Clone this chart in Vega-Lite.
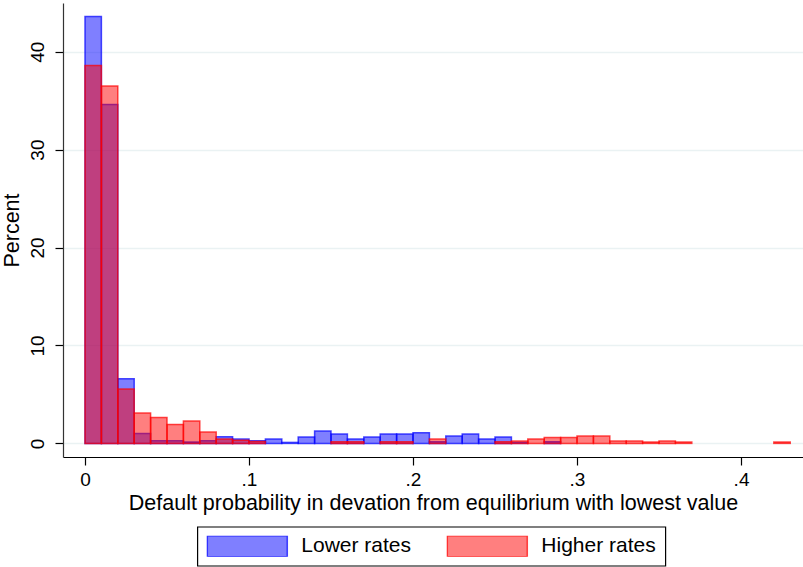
{
  "$schema": "https://vega.github.io/schema/vega-lite/v6.json",
  "autosize": {"type": "none"},
  "padding": {"left": 63, "top": 3, "right": 0, "bottom": 110},
  "width": 740,
  "height": 454,
  "background": "white",
  "config": {
    "view": {"stroke": null},
    "font": "Liberation Sans"
  },
  "data": {
    "values": [
      {"group": "Lower rates", "lo": 0.00, "hi": 0.01, "pct": 43.6},
      {"group": "Lower rates", "lo": 0.01, "hi": 0.02, "pct": 34.6},
      {"group": "Lower rates", "lo": 0.02, "hi": 0.03, "pct": 6.6},
      {"group": "Lower rates", "lo": 0.03, "hi": 0.04, "pct": 1.0},
      {"group": "Lower rates", "lo": 0.04, "hi": 0.05, "pct": 0.28},
      {"group": "Lower rates", "lo": 0.05, "hi": 0.06, "pct": 0.28},
      {"group": "Lower rates", "lo": 0.06, "hi": 0.07, "pct": 0.15},
      {"group": "Lower rates", "lo": 0.07, "hi": 0.08, "pct": 0.28},
      {"group": "Lower rates", "lo": 0.08, "hi": 0.09, "pct": 0.68},
      {"group": "Lower rates", "lo": 0.09, "hi": 0.10, "pct": 0.45},
      {"group": "Lower rates", "lo": 0.10, "hi": 0.11, "pct": 0.28},
      {"group": "Lower rates", "lo": 0.11, "hi": 0.12, "pct": 0.45},
      {"group": "Lower rates", "lo": 0.12, "hi": 0.13, "pct": 0.1},
      {"group": "Lower rates", "lo": 0.13, "hi": 0.14, "pct": 0.65},
      {"group": "Lower rates", "lo": 0.14, "hi": 0.15, "pct": 1.26},
      {"group": "Lower rates", "lo": 0.15, "hi": 0.16, "pct": 0.96},
      {"group": "Lower rates", "lo": 0.16, "hi": 0.17, "pct": 0.45},
      {"group": "Lower rates", "lo": 0.17, "hi": 0.18, "pct": 0.65},
      {"group": "Lower rates", "lo": 0.18, "hi": 0.19, "pct": 0.96},
      {"group": "Lower rates", "lo": 0.19, "hi": 0.20, "pct": 0.96},
      {"group": "Lower rates", "lo": 0.20, "hi": 0.21, "pct": 1.09},
      {"group": "Lower rates", "lo": 0.21, "hi": 0.22, "pct": 0.17},
      {"group": "Lower rates", "lo": 0.22, "hi": 0.23, "pct": 0.75},
      {"group": "Lower rates", "lo": 0.23, "hi": 0.24, "pct": 0.96},
      {"group": "Lower rates", "lo": 0.24, "hi": 0.25, "pct": 0.45},
      {"group": "Lower rates", "lo": 0.25, "hi": 0.26, "pct": 0.65},
      {"group": "Lower rates", "lo": 0.26, "hi": 0.27, "pct": 0.1},
      {"group": "Lower rates", "lo": 0.28, "hi": 0.29, "pct": 0.17},
      {"group": "Higher rates", "lo": 0.00, "hi": 0.01, "pct": 38.6},
      {"group": "Higher rates", "lo": 0.01, "hi": 0.02, "pct": 36.5},
      {"group": "Higher rates", "lo": 0.02, "hi": 0.03, "pct": 5.55},
      {"group": "Higher rates", "lo": 0.03, "hi": 0.04, "pct": 3.1},
      {"group": "Higher rates", "lo": 0.04, "hi": 0.05, "pct": 2.65},
      {"group": "Higher rates", "lo": 0.05, "hi": 0.06, "pct": 1.94},
      {"group": "Higher rates", "lo": 0.06, "hi": 0.07, "pct": 2.28},
      {"group": "Higher rates", "lo": 0.07, "hi": 0.08, "pct": 1.16},
      {"group": "Higher rates", "lo": 0.08, "hi": 0.09, "pct": 0.45},
      {"group": "Higher rates", "lo": 0.09, "hi": 0.10, "pct": 0.33},
      {"group": "Higher rates", "lo": 0.10, "hi": 0.11, "pct": 0.2},
      {"group": "Higher rates", "lo": 0.15, "hi": 0.16, "pct": 0.17},
      {"group": "Higher rates", "lo": 0.16, "hi": 0.17, "pct": 0.17},
      {"group": "Higher rates", "lo": 0.18, "hi": 0.19, "pct": 0.17},
      {"group": "Higher rates", "lo": 0.19, "hi": 0.20, "pct": 0.17},
      {"group": "Higher rates", "lo": 0.21, "hi": 0.22, "pct": 0.45},
      {"group": "Higher rates", "lo": 0.25, "hi": 0.26, "pct": 0.17},
      {"group": "Higher rates", "lo": 0.26, "hi": 0.27, "pct": 0.24},
      {"group": "Higher rates", "lo": 0.27, "hi": 0.28, "pct": 0.45},
      {"group": "Higher rates", "lo": 0.28, "hi": 0.29, "pct": 0.6},
      {"group": "Higher rates", "lo": 0.29, "hi": 0.30, "pct": 0.6},
      {"group": "Higher rates", "lo": 0.30, "hi": 0.31, "pct": 0.75},
      {"group": "Higher rates", "lo": 0.31, "hi": 0.32, "pct": 0.75},
      {"group": "Higher rates", "lo": 0.32, "hi": 0.33, "pct": 0.24},
      {"group": "Higher rates", "lo": 0.33, "hi": 0.34, "pct": 0.24},
      {"group": "Higher rates", "lo": 0.34, "hi": 0.35, "pct": 0.14},
      {"group": "Higher rates", "lo": 0.35, "hi": 0.36, "pct": 0.24},
      {"group": "Higher rates", "lo": 0.36, "hi": 0.37, "pct": 0.14},
      {"group": "Higher rates", "lo": 0.42, "hi": 0.43, "pct": 0.14}
    ]
  },
  "mark": {"type": "bar", "fillOpacity": 0.5, "strokeOpacity": 0.7, "strokeWidth": 1.5},
  "encoding": {
    "x": {
      "field": "lo", "type": "quantitative",
      "scale": {"domain": [-0.01341, 0.43779], "nice": false, "zero": false},
      "axis": {
        "title": "Default probability in devation from equilibrium with lowest value",
        "values": [0, 0.1, 0.2, 0.3, 0.4],
        "labelExpr": "datum.value == 0 ? '0' : replace(format(datum.value, '.1f'), '0.', '.')",
        "grid": false,
        "domainColor": "#000000", "domainWidth": 1.2,
        "tickColor": "#000000", "tickSize": 8, "tickWidth": 1.2,
        "labelFont": "Liberation Sans", "labelFontSize": 19, "labelColor": "#000000", "labelPadding": 5,
        "titleFont": "Liberation Sans", "titleFontSize": 21.5, "titleFontWeight": "normal", "titleColor": "#000000", "titlePadding": 3
      }
    },
    "x2": {"field": "hi"},
    "y": {
      "field": "pct", "type": "quantitative", "stack": null,
      "scale": {"domain": [-1.39, 44.97], "nice": false, "zero": false},
      "axis": {
        "title": "Percent",
        "values": [0, 10, 20, 30, 40],
        "grid": true, "gridColor": "#eaf2f3", "gridWidth": 1.5,
        "domainColor": "#333333", "domainWidth": 1.2,
        "tickColor": "#000000", "tickSize": 8, "tickWidth": 1.2,
        "labelAngle": 270, "labelAlign": "center", "labelBaseline": "alphabetic",
        "labelFont": "Liberation Sans", "labelFontSize": 19, "labelColor": "#000000", "labelPadding": 12,
        "titleFont": "Liberation Sans", "titleFontSize": 21.5, "titleFontWeight": "normal", "titleColor": "#000000", "titlePadding": 5
      }
    },
    "y2": {"datum": 0},
    "color": {
      "field": "group", "type": "nominal",
      "scale": {"domain": ["Lower rates", "Higher rates"], "range": ["#0000ff", "#ff0000"]},
      "legend": {
        "title": null,
        "orient": "none", "legendX": 134.3, "legendY": 523.7,
        "direction": "horizontal",
        "strokeColor": "#000000",
        "padding": 9,
        "symbolType": "M-1,-0.2625L1,-0.2625L1,0.2625L-1,0.2625Z",
        "symbolSize": 6400,
        "clipHeight": 21,
        "labelFont": "Liberation Sans", "labelFontSize": 21, "labelColor": "#000000",
        "labelOffset": 13,
        "columnPadding": 35,
        "encode": {
          "legend": {"update": {"strokeWidth": {"value": 1.2}}},
          "symbols": {
            "update": {
              "stroke": {"scale": "color", "field": "value"},
              "strokeWidth": {"value": 1.5},
              "fillOpacity": {"value": 0.5},
              "strokeOpacity": {"value": 0.7}
            }
          }
        }
      }
    },
    "stroke": {
      "field": "group", "type": "nominal",
      "scale": {"domain": ["Lower rates", "Higher rates"], "range": ["#0000ff", "#ff0000"]},
      "legend": null
    }
  }
}
